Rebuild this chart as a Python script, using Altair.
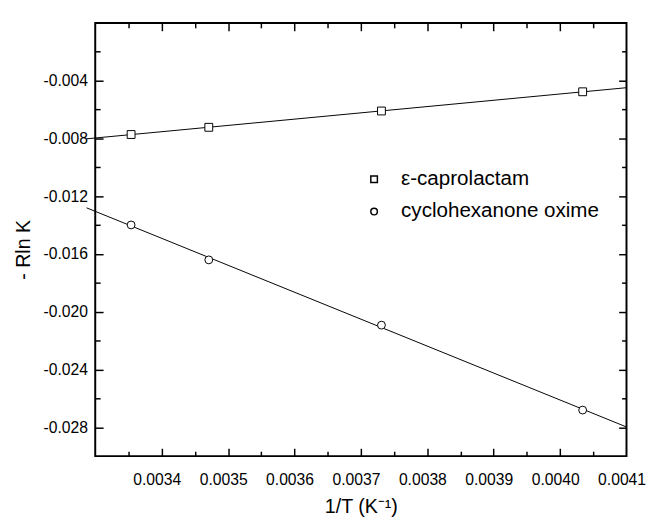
import altair as alt
import pandas as pd

# ---- data ----
inv_T = [0.003354, 0.003471, 0.003731, 0.004034]
caprolactam = [-0.00773, -0.00723, -0.00610, -0.00477]
oxime = [-0.01399, -0.01641, -0.02093, -0.02681]
series_names = ["ε-caprolactam", "cyclohexanone oxime"]

x_labels = [0.0034, 0.0035, 0.0036, 0.0037, 0.0038, 0.0039, 0.0040, 0.0041]
y_labels = [-0.004, -0.008, -0.012, -0.016, -0.020, -0.024, -0.028]
x_ticks = [0.00335, 0.0034, 0.00345, 0.0035, 0.00355, 0.0036, 0.00365, 0.0037,
           0.00375, 0.0038, 0.00385, 0.0039, 0.00395, 0.0040, 0.00405]
y_ticks = [-0.002, -0.004, -0.006, -0.008, -0.010, -0.012, -0.014, -0.016,
           -0.018, -0.020, -0.022, -0.024, -0.026, -0.028]
x_domain = [0.0033, 0.0041]
y_domain = [-0.030, 0.0]
fit_extent = [0.003287, 0.0041]

W, H = 542, 442
FONT = "Liberation Sans"

df = pd.DataFrame({
    "x": inv_T * 2,
    "y": caprolactam + oxime,
    "series": [series_names[0]] * len(inv_T) + [series_names[1]] * len(inv_T),
})

x_scale = alt.Scale(domain=x_domain, nice=False, zero=False)
y_scale = alt.Scale(domain=y_domain, nice=False, zero=False)

x_axis = alt.Axis(
    orient="bottom", values=x_labels, format=".4f",
    ticks=False, domain=False, grid=False, labelFlush=False, labelOverlap=False,
    labelFontSize=16, labelFont=FONT, labelColor="black", labelPadding=16,
    labelOffset=-5,
    title="1/T (K⁻¹)", titleFontSize=20, titleFont=FONT, titleFontWeight="normal",
    titleColor="black", titlePadding=10,
)
y_axis = alt.Axis(
    orient="left", values=y_labels, labelExpr="'-' + format(abs(datum.value), '.3f')",
    ticks=False, domain=False, grid=False, labelFlush=False, labelOverlap=False,
    labelFontSize=16, labelFont=FONT, labelColor="black", labelPadding=8,
    title="- Rln K", titleFontSize=20, titleFont=FONT, titleFontWeight="normal",
    titleColor="black", titlePadding=10, titleY=H / 2 + 10,
)

x_tick_size = {"condition": {"test": "abs(round(datum.value * 20000)) % 2 == 0", "value": 8}, "value": 5}
y_tick_size = {"condition": {"test": "abs(round(datum.value * 500)) % 2 == 0", "value": 8}, "value": 5}


def tick_axis(orient, offset, values, size):
    # inward-pointing ticks: an axis flipped onto the opposite frame edge
    return alt.Axis(
        orient=orient, offset=offset, values=values, labels=False, domain=False,
        grid=False, title=None, ticks=True, tickColor="black", tickWidth=1.5,
        tickSize=size,
    )


base = alt.Chart(df)

lines = base.transform_regression(
    "x", "y", groupby=["series"], extent=fit_extent
).mark_line(color="black", strokeWidth=1, clip=False).encode(
    x=alt.X("x:Q", scale=x_scale, axis=x_axis),
    y=alt.Y("y:Q", scale=y_scale, axis=y_axis),
    detail="series:N",
)

points = base.mark_point(
    filled=False, fill="white", fillOpacity=1, strokeWidth=1, size=64,
).encode(
    x=alt.X("x:Q", scale=x_scale, axis=tick_axis("top", -H, x_ticks, x_tick_size)),
    y=alt.Y("y:Q", scale=y_scale, axis=tick_axis("right", -W, y_ticks, y_tick_size)),
    color=alt.value("black"),
    shape=alt.Shape(
        "series:N",
        scale=alt.Scale(domain=series_names, range=["square", "circle"]),
        legend=alt.Legend(
            title=None, orient="none", legendX=274, legendY=149, padding=0,
            symbolSize=45, labelFontSize=21, labelFont=FONT, labelLimit=0,
            labelColor="black", rowPadding=11, labelOffset=17,
        ),
    ),
)

tick_carrier = base.mark_point(opacity=0).encode(
    x=alt.X("x:Q", scale=x_scale, axis=tick_axis("bottom", -H, x_ticks, x_tick_size)),
    y=alt.Y("y:Q", scale=y_scale, axis=tick_axis("left", -W, y_ticks, y_tick_size)),
)

chart = alt.layer(lines, points, tick_carrier).resolve_axis(
    x="independent", y="independent"
).properties(
    width=W, height=H,
    padding={"left": 5, "top": 9, "right": 5, "bottom": 0},
    background="white",
).configure_view(stroke="black", strokeWidth=2)

chart.save("out.html", embed_options={"renderer": "svg", "actions": False})
